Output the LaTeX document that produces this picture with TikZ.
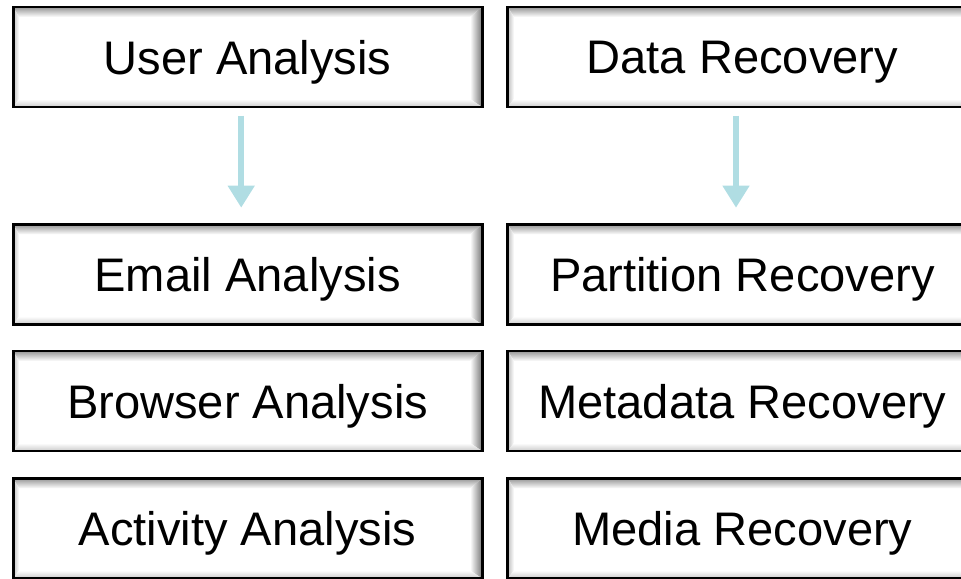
\documentclass[tikz,border=0pt]{standalone}
\usepackage{fontspec}
\setmainfont{Liberation Sans}
\usepackage{tikz}
\usetikzlibrary{arrows.meta}

\definecolor{arrowcyan}{RGB}{176,221,227}
\definecolor{bevelgray}{RGB}{150,150,150}

\tikzset{
  box/.style={draw=black,line width=2.1pt,fill=white,
    minimum width=11.725cm,minimum height=2.5cm,text depth=0pt,
    font=\fontsize{33.5}{40}\selectfont,
    path picture={
      \coordinate (nw) at (path picture bounding box.north west);
      \coordinate (ne) at (path picture bounding box.north east);
      \coordinate (sw) at (path picture bounding box.south west);
      \coordinate (se) at (path picture bounding box.south east);
      \shade[top color=bevelgray,bottom color=white] (nw) -- (ne) -- ([shift={(-0.3,-0.25)}]ne) -- ([shift={(0.15,-0.25)}]nw) -- cycle;
      \shade[left color=white,right color=bevelgray!80!black] ([shift={(-0.3,-0.25)}]ne) -- (ne) -- (se) -- ([shift={(-0.3,0.2)}]se) -- cycle;
      \shade[left color=bevelgray!60,right color=white] (nw) -- ([shift={(0.15,-0.25)}]nw) -- ([shift={(0.15,0.2)}]sw) -- (sw) -- cycle;
      \shade[bottom color=bevelgray!50,top color=white] (sw) -- ([shift={(0.15,0.2)}]sw) -- ([shift={(-0.3,0.2)}]se) -- (se) -- cycle;
    }},
  flow/.style={draw=arrowcyan,line width=4.3pt,
    -{Triangle[width=0.64cm,length=0.55cm]},
    shorten <=0.18cm,shorten >=0.38cm}
}

\begin{document}
\begin{tikzpicture}
    \useasboundingbox (0,0) rectangle (24.025,-14.45);
    \node at (6.19,-1.425) [box] (ua) {User Analysis};
    \node at (6.19,-6.86) [box] (ea) {Email Analysis};
    \node at (6.19,-10.025) [box] (ba) {Browser Analysis};
    \node at (6.19,-13.21) [box] (aa) {Activity Analysis};
    \node at (18.56,-1.425) [box] (dr) {Data Recovery};
    \node at (18.56,-6.86) [box] (pr) {Partition Recovery};
    \node at (18.56,-10.025) [box] (mr) {Metadata Recovery};
    \node at (18.56,-13.21) [box] (mer) {Media Recovery};
    \draw[flow] ([xshift=-0.16cm]ua.south) -- ([xshift=-0.16cm]ea.north);
    \draw[flow] ([xshift=-0.16cm]dr.south) -- ([xshift=-0.16cm]pr.north);
\end{tikzpicture}
\end{document}
